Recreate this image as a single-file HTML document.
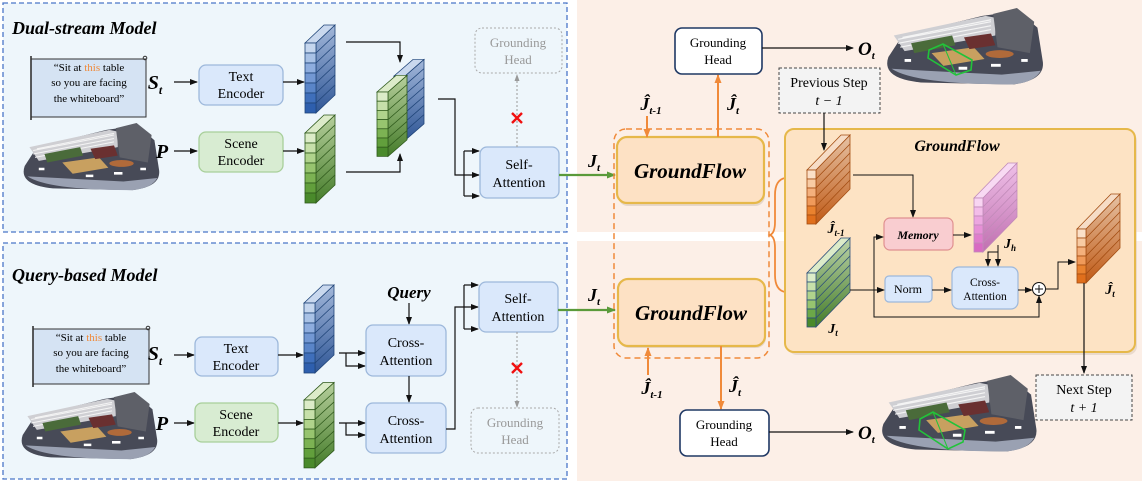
<!DOCTYPE html>
<html><head><meta charset="utf-8"><style>
html,body{margin:0;padding:0;background:#fff;}
svg{display:block;}
text{font-family:"Liberation Serif",serif;}
</style></head><body>
<svg width="1142" height="483" viewBox="0 0 1142 483" xmlns="http://www.w3.org/2000/svg">
<defs>
<marker id="ab" markerWidth="8" markerHeight="8" refX="7" refY="4" orient="auto" markerUnits="userSpaceOnUse"><path d="M0,1 L8,4 L0,7 Z" fill="#111"/></marker>
<marker id="ag" markerWidth="9" markerHeight="9" refX="8" refY="4.5" orient="auto" markerUnits="userSpaceOnUse"><path d="M0,1 L9,4.5 L0,8 Z" fill="#5a9a3a"/></marker>
<marker id="ao" markerWidth="9" markerHeight="9" refX="8" refY="4.5" orient="auto" markerUnits="userSpaceOnUse"><path d="M0,1 L9,4.5 L0,8 Z" fill="#f08a3a"/></marker>
<marker id="agr" markerWidth="7" markerHeight="7" refX="6" refY="3.5" orient="auto" markerUnits="userSpaceOnUse"><path d="M0,1 L7,3.5 L0,6 Z" fill="#999"/></marker>
<linearGradient id="bside" x1="0" y1="0" x2="0" y2="1"><stop offset="0" stop-color="#a3b8da"/><stop offset="1" stop-color="#2f5696"/></linearGradient>
<linearGradient id="gside" x1="0" y1="0" x2="0" y2="1"><stop offset="0" stop-color="#b6cf9c"/><stop offset="1" stop-color="#457c2a"/></linearGradient>
<linearGradient id="oside" x1="0" y1="0" x2="0" y2="1"><stop offset="0" stop-color="#e6c2a4"/><stop offset="1" stop-color="#c05a16"/></linearGradient>
<linearGradient id="pside" x1="0" y1="0" x2="0" y2="1"><stop offset="0" stop-color="#efc0e8"/><stop offset="1" stop-color="#c070b0"/></linearGradient>
<linearGradient id="gside2" x1="0" y1="0" x2="0" y2="1"><stop offset="0" stop-color="#bcd3a8"/><stop offset="1" stop-color="#457c2a"/></linearGradient>

<g id="blueStack" stroke="#1f4478" stroke-width="0.8">
<polygon points="11,0 30,-18 30,52 11,70" fill="url(#bside)"/>
<polygon points="0,0 19,-18 30,-18 11,0" fill="#c9d8ee"/>
<rect x="0" y="0" width="11" height="10" fill="#c5d6ee"/><rect x="0" y="10" width="11" height="10" fill="#a9c2e6"/><rect x="0" y="20" width="11" height="10" fill="#8eadde"/><rect x="0" y="30" width="11" height="10" fill="#7398d3"/><rect x="0" y="40" width="11" height="10" fill="#5a85c8"/><rect x="0" y="50" width="11" height="10" fill="#3f6fbb"/><rect x="0" y="60" width="11" height="10" fill="#2e5fae"/>
<path d="M11,10 l19,-18 M11,20 l19,-18 M11,30 l19,-18 M11,40 l19,-18 M11,50 l19,-18 M11,60 l19,-18" fill="none"/>
</g>
<g id="greenStack" stroke="#2f5a1c" stroke-width="0.8">
<polygon points="11,0 30,-18 30,52 11,70" fill="url(#gside)"/>
<polygon points="0,0 19,-18 30,-18 11,0" fill="#dcebc9"/>
<rect x="0" y="0" width="11" height="10" fill="#dcecc8"/><rect x="0" y="10" width="11" height="10" fill="#c7e0aa"/><rect x="0" y="20" width="11" height="10" fill="#b0d38c"/><rect x="0" y="30" width="11" height="10" fill="#97c46f"/><rect x="0" y="40" width="11" height="10" fill="#7cb253"/><rect x="0" y="50" width="11" height="10" fill="#629f3c"/><rect x="0" y="60" width="11" height="10" fill="#4a8a2b"/>
<path d="M11,10 l19,-18 M11,20 l19,-18 M11,30 l19,-18 M11,40 l19,-18 M11,50 l19,-18 M11,60 l19,-18" fill="none"/>
</g>
<g id="oSlab" stroke="#a34d12" stroke-width="0.8">
<polygon points="9,0 43,-35 43,19 9,54" fill="url(#oside)"/>
<polygon points="0,0 34,-35 43,-35 9,0" fill="#f6dcc6"/>
<rect x="0" y="0" width="9" height="9" fill="#fbe0c8"/><rect x="0" y="9" width="9" height="9" fill="#f8cba3"/><rect x="0" y="18" width="9" height="9" fill="#f4b07c"/><rect x="0" y="27" width="9" height="9" fill="#f09a5a"/><rect x="0" y="36" width="9" height="9" fill="#e9822f"/><rect x="0" y="45" width="9" height="9" fill="#e06f1c"/>
<path d="M9,9 l34,-35 M9,18 l34,-35 M9,27 l34,-35 M9,36 l34,-35 M9,45 l34,-35" fill="none"/>
</g>
<g id="gSlab" stroke="#2d4f7a" stroke-width="0.8">
<polygon points="9,0 43,-35 43,19 9,54" fill="url(#gside2)"/>
<polygon points="0,0 34,-35 43,-35 9,0" fill="#dcebc9"/>
<rect x="0" y="0" width="9" height="9" fill="#dcecc8"/><rect x="0" y="9" width="9" height="9" fill="#c7e0aa"/><rect x="0" y="18" width="9" height="9" fill="#b0d38c"/><rect x="0" y="27" width="9" height="9" fill="#97c46f"/><rect x="0" y="36" width="9" height="9" fill="#6ca848"/><rect x="0" y="45" width="9" height="9" fill="#4a8a2b"/>
<path d="M9,9 l34,-35 M9,18 l34,-35 M9,27 l34,-35 M9,36 l34,-35 M9,45 l34,-35" fill="none"/>
</g>
<g id="pSlab" stroke="#c08ab8" stroke-width="0.8">
<polygon points="9,0 43,-35 43,19 9,54" fill="url(#pside)"/>
<polygon points="0,0 34,-35 43,-35 9,0" fill="#f8daf3"/>
<rect x="0" y="0" width="9" height="9" fill="#f8d5f2"/><rect x="0" y="9" width="9" height="9" fill="#f3bde9"/><rect x="0" y="18" width="9" height="9" fill="#eca6e0"/><rect x="0" y="27" width="9" height="9" fill="#e690d6"/><rect x="0" y="36" width="9" height="9" fill="#df7dcc"/><rect x="0" y="45" width="9" height="9" fill="#d86bc2"/>
<path d="M9,9 l34,-35 M9,18 l34,-35 M9,27 l34,-35 M9,36 l34,-35 M9,45 l34,-35" fill="none"/>
</g>
<g id="pc">
<path d="M5,50 Q-2,72 35,76 L120,78 Q150,74 148,55 L143,20 L125,3 L92,8 L18,28 Z" fill="#474a57"/>
<path d="M8,62 Q30,78 120,78 Q140,76 146,64 L110,68 L40,64 Z" fill="#9aa1b2"/>
<path d="M10,28 L95,8 L104,10 L104,28 L20,44 Z" fill="#cfcfd3"/>
<path d="M14,32 L100,14 M14,36 L100,18 M16,40 L100,22 M18,30 L100,12" stroke="#f4f4f4" stroke-width="1.2"/>
<path d="M102,6 L124,0 L140,14 L136,46 L106,40 Z" fill="#5e6068"/>
<path d="M26,36 L64,28 L67,38 L29,46 Z" fill="#4a6b3a"/>
<path d="M45,46 L84,40 L94,52 L56,59 Z" fill="#c8a060"/>
<path d="M75,30 L100,26 L104,38 L80,42 Z" fill="#6a3030"/>
<ellipse cx="108" cy="47" rx="13" ry="4" fill="#b06a3a"/>
<path d="M20,52 h6 v3 h-6z M70,60 h8 v3 h-8z M100,57 h9 v3 h-9z M128,52 h6 v3 h-6z" fill="#fff"/>
</g>
</defs>

<rect x="577" y="0" width="565" height="232" fill="#fcefe7"/>
<rect x="577" y="241" width="565" height="240" fill="#fcefe7"/>
<rect x="3" y="3" width="564" height="229" fill="#eef6fb" stroke="#4a76c8" stroke-width="1.3" stroke-dasharray="5,3"/>
<rect x="3" y="243" width="564" height="236" fill="#eef6fb" stroke="#4a76c8" stroke-width="1.3" stroke-dasharray="5,3"/>

<text x="12" y="34" font-size="18" font-weight="bold" font-style="italic">Dual-stream Model</text>
<rect x="31" y="59" width="115" height="58" fill="#d5e3f3" stroke="#333" stroke-width="1"/>
<line x1="31" y1="56" x2="31" y2="120" stroke="#333" stroke-width="1.6"/>
<circle cx="145" cy="58" r="1.8" fill="none" stroke="#333"/>
<text font-size="11" text-anchor="middle" x="89"><tspan y="71">“Sit at <tspan fill="#f08a3a">this</tspan> table</tspan><tspan x="89" y="86">so you are facing</tspan><tspan x="89" y="102">the whiteboard”</tspan></text>
<use href="#pc" transform="translate(20,123) scale(0.94,0.86)"/>
<text x="155" y="89" font-size="20" font-weight="bold" font-style="italic" text-anchor="middle">S<tspan font-size="12" dy="5">t</tspan></text>
<line x1="174" y1="82" x2="197" y2="82" stroke="#111" stroke-width="1.2" marker-end="url(#ab)"/>
<text x="162" y="158" font-size="20" font-weight="bold" font-style="italic" text-anchor="middle">P</text>
<line x1="174" y1="151" x2="197" y2="151" stroke="#111" stroke-width="1.2" marker-end="url(#ab)"/>
<rect x="199" y="65" width="84" height="40" rx="7" fill="#dae8fb" stroke="#9db8db" stroke-width="1.3"/>
<text font-size="14" text-anchor="middle" x="241"><tspan y="81">Text</tspan><tspan x="241" y="98">Encoder</tspan></text>
<rect x="199" y="132" width="84" height="40" rx="7" fill="#d8ecd2" stroke="#a8cf9a" stroke-width="1.3"/>
<text font-size="14" text-anchor="middle" x="241"><tspan y="148">Scene</tspan><tspan x="241" y="165">Encoder</tspan></text>
<line x1="283" y1="82" x2="304" y2="82" stroke="#111" stroke-width="1.2" marker-end="url(#ab)"/>
<line x1="283" y1="151" x2="304" y2="151" stroke="#111" stroke-width="1.2" marker-end="url(#ab)"/>
<use href="#blueStack" transform="translate(305,43)"/>
<use href="#greenStack" transform="translate(305,133)"/>
<polyline points="346,42 400,42 400,62" fill="none" stroke="#111" stroke-width="1.2" marker-end="url(#ab)"/>
<polyline points="346,172 400,172 400,154" fill="none" stroke="#111" stroke-width="1.2" marker-end="url(#ab)"/>
<use href="#blueStack" transform="translate(394,76) scale(1,0.92)"/>
<use href="#greenStack" transform="translate(377,92) scale(1,0.92)"/>
<polyline points="438,99 455,99 455,175 479,175" fill="none" stroke="#111" stroke-width="1.2" marker-end="url(#ab)"/>
<line x1="464" y1="151" x2="464" y2="196" stroke="#111" stroke-width="1.2"/>
<line x1="464" y1="151" x2="479" y2="151" stroke="#111" stroke-width="1.2" marker-end="url(#ab)"/>
<line x1="464" y1="196" x2="479" y2="196" stroke="#111" stroke-width="1.2" marker-end="url(#ab)"/>
<rect x="480" y="147" width="79" height="51" rx="7" fill="#dae8fb" stroke="#9db8db" stroke-width="1.3"/>
<text font-size="14" text-anchor="middle" x="519"><tspan y="169">Self-</tspan><tspan x="519" y="187">Attention</tspan></text>
<rect x="475" y="28" width="87" height="45" rx="7" fill="none" stroke="#aaa" stroke-width="1" stroke-dasharray="2,2"/>
<text font-size="13" text-anchor="middle" x="518" fill="#999"><tspan y="47">Grounding</tspan><tspan x="518" y="64">Head</tspan></text>
<line x1="517" y1="147" x2="517" y2="75" stroke="#999" stroke-width="1" stroke-dasharray="2,2" marker-end="url(#agr)"/>
<path d="M512,113 l10,10 M522,113 l-10,10" stroke="#f01010" stroke-width="2.4"/>
<line x1="559" y1="175" x2="615" y2="175" stroke="#5a9a3a" stroke-width="2.2" marker-end="url(#ag)"/>
<text x="594" y="167" font-size="18" font-weight="bold" font-style="italic" text-anchor="middle">J<tspan font-size="11" dy="4">t</tspan></text>

<text x="12" y="281" font-size="18" font-weight="bold" font-style="italic">Query-based Model</text>
<rect x="33" y="329" width="116" height="55" fill="#d5e3f3" stroke="#333" stroke-width="1"/>
<line x1="33" y1="326" x2="33" y2="387" stroke="#333" stroke-width="1.6"/>
<circle cx="148" cy="328" r="1.8" fill="none" stroke="#333"/>
<text font-size="11" text-anchor="middle" x="91"><tspan y="341">“Sit at <tspan fill="#f08a3a">this</tspan> table</tspan><tspan x="91" y="356">so you are facing</tspan><tspan x="91" y="372">the whiteboard”</tspan></text>
<use href="#pc" transform="translate(18,392) scale(0.94,0.86)"/>
<text x="155" y="360" font-size="20" font-weight="bold" font-style="italic" text-anchor="middle">S<tspan font-size="12" dy="5">t</tspan></text>
<line x1="174" y1="355" x2="194" y2="355" stroke="#111" stroke-width="1.2" marker-end="url(#ab)"/>
<text x="162" y="430" font-size="20" font-weight="bold" font-style="italic" text-anchor="middle">P</text>
<line x1="174" y1="423" x2="194" y2="423" stroke="#111" stroke-width="1.2" marker-end="url(#ab)"/>
<rect x="195" y="337" width="83" height="39" rx="7" fill="#dae8fb" stroke="#9db8db" stroke-width="1.3"/>
<text font-size="14" text-anchor="middle" x="236"><tspan y="353">Text</tspan><tspan x="236" y="370">Encoder</tspan></text>
<rect x="195" y="403" width="83" height="39" rx="7" fill="#d8ecd2" stroke="#a8cf9a" stroke-width="1.3"/>
<text font-size="14" text-anchor="middle" x="236"><tspan y="419">Scene</tspan><tspan x="236" y="436">Encoder</tspan></text>
<line x1="278" y1="355" x2="303" y2="355" stroke="#111" stroke-width="1.2" marker-end="url(#ab)"/>
<line x1="278" y1="423" x2="303" y2="423" stroke="#111" stroke-width="1.2" marker-end="url(#ab)"/>
<use href="#blueStack" transform="translate(304,303)"/>
<use href="#greenStack" transform="translate(304,400) scale(1,0.97)"/>
<line x1="339" y1="353" x2="365" y2="353" stroke="#111" stroke-width="1.2" marker-end="url(#ab)"/>
<polyline points="346,353 346,366 365,366" fill="none" stroke="#111" stroke-width="1.2" marker-end="url(#ab)"/>
<line x1="339" y1="423" x2="365" y2="423" stroke="#111" stroke-width="1.2" marker-end="url(#ab)"/>
<polyline points="346,423 346,435 365,435" fill="none" stroke="#111" stroke-width="1.2" marker-end="url(#ab)"/>
<text x="409" y="298" font-size="17" font-weight="bold" font-style="italic" text-anchor="middle">Query</text>
<line x1="409" y1="303" x2="409" y2="324" stroke="#111" stroke-width="1.2" marker-end="url(#ab)"/>
<rect x="366" y="325" width="80" height="51" rx="7" fill="#dae8fb" stroke="#9db8db" stroke-width="1.3"/>
<text font-size="14" text-anchor="middle" x="406"><tspan y="347">Cross-</tspan><tspan x="406" y="365">Attention</tspan></text>
<line x1="409" y1="376" x2="409" y2="402" stroke="#111" stroke-width="1.2" marker-end="url(#ab)"/>
<rect x="366" y="403" width="80" height="50" rx="7" fill="#dae8fb" stroke="#9db8db" stroke-width="1.3"/>
<text font-size="14" text-anchor="middle" x="406"><tspan y="425">Cross-</tspan><tspan x="406" y="443">Attention</tspan></text>
<polyline points="446,429 455,429 455,307 478,307" fill="none" stroke="#111" stroke-width="1.2" marker-end="url(#ab)"/>
<line x1="464" y1="285" x2="464" y2="329" stroke="#111" stroke-width="1.2"/>
<line x1="464" y1="285" x2="478" y2="285" stroke="#111" stroke-width="1.2" marker-end="url(#ab)"/>
<line x1="464" y1="329" x2="478" y2="329" stroke="#111" stroke-width="1.2" marker-end="url(#ab)"/>
<rect x="479" y="282" width="79" height="50" rx="7" fill="#dae8fb" stroke="#9db8db" stroke-width="1.3"/>
<text font-size="14" text-anchor="middle" x="518"><tspan y="303">Self-</tspan><tspan x="518" y="321">Attention</tspan></text>
<line x1="517" y1="332" x2="517" y2="407" stroke="#999" stroke-width="1" stroke-dasharray="2,2" marker-end="url(#agr)"/>
<path d="M512,363 l10,10 M522,363 l-10,10" stroke="#f01010" stroke-width="2.4"/>
<rect x="471" y="408" width="88" height="45" rx="7" fill="none" stroke="#aaa" stroke-width="1" stroke-dasharray="2,2"/>
<text font-size="13" text-anchor="middle" x="515" fill="#999"><tspan y="427">Grounding</tspan><tspan x="515" y="444">Head</tspan></text>
<line x1="558" y1="310" x2="615" y2="310" stroke="#5a9a3a" stroke-width="2.2" marker-end="url(#ag)"/>
<text x="594" y="301" font-size="18" font-weight="bold" font-style="italic" text-anchor="middle">J<tspan font-size="11" dy="4">t</tspan></text>

<rect x="614" y="129" width="155" height="229" rx="12" fill="none" stroke="#f08a3a" stroke-width="1.5" stroke-dasharray="6,4"/>
<rect x="618" y="140" width="147" height="66" rx="10" fill="#d0c0b0" opacity="0.5"/>
<rect x="617" y="137" width="147" height="66" rx="10" fill="#fde1c4" stroke="#e6b84a" stroke-width="2.2"/>
<text x="690" y="178" font-size="21" font-weight="bold" font-style="italic" text-anchor="middle">GroundFlow</text>
<rect x="619" y="282" width="147" height="66" rx="10" fill="#d0c0b0" opacity="0.5"/>
<rect x="618" y="279" width="147" height="67" rx="10" fill="#fde1c4" stroke="#e6b84a" stroke-width="2.2"/>
<text x="691" y="320" font-size="21" font-weight="bold" font-style="italic" text-anchor="middle">GroundFlow</text>

<line x1="647" y1="116" x2="647" y2="137" stroke="#f08a3a" stroke-width="2" marker-end="url(#ao)"/>
<text x="651" y="110" font-size="18" font-weight="bold" font-style="italic" text-anchor="middle">Ĵ<tspan font-size="11" dy="4">t-1</tspan></text>
<line x1="718" y1="137" x2="718" y2="75" stroke="#f08a3a" stroke-width="2" marker-end="url(#ao)"/>
<text x="733" y="110" font-size="18" font-weight="bold" font-style="italic" text-anchor="middle">Ĵ<tspan font-size="11" dy="4">t</tspan></text>
<rect x="675" y="28" width="87" height="46" rx="7" fill="#fff" stroke="#1f3864" stroke-width="1.6"/>
<text font-size="13" text-anchor="middle" x="718"><tspan y="47">Grounding</tspan><tspan x="718" y="64">Head</tspan></text>
<line x1="762" y1="48" x2="853" y2="48" stroke="#111" stroke-width="1.2" marker-end="url(#ab)"/>
<text x="858" y="55" font-size="19" font-weight="bold" font-style="italic">O<tspan font-size="11" dy="4">t</tspan></text>
<use href="#pc" transform="translate(883,8) scale(1.08,0.98)"/>
<polygon points="929,50 943,44 972,60 971,70 956,75 928,58" fill="none" stroke="#22c33a" stroke-width="1.6"/>
<line x1="943" y1="44" x2="956" y2="75" stroke="#22c33a" stroke-width="1"/>

<rect x="779" y="68" width="101" height="45" fill="#f3f3f3" stroke="#444" stroke-width="1" stroke-dasharray="3,2"/>
<text font-size="14" text-anchor="middle" x="829"><tspan y="87">Previous Step</tspan><tspan x="829" y="105" font-style="italic">t − 1</tspan></text>

<line x1="648" y1="375" x2="648" y2="348" stroke="#f08a3a" stroke-width="2" marker-end="url(#ao)"/>
<text x="652" y="394" font-size="18" font-weight="bold" font-style="italic" text-anchor="middle">Ĵ<tspan font-size="11" dy="4">t-1</tspan></text>
<line x1="721" y1="346" x2="721" y2="409" stroke="#f08a3a" stroke-width="2" marker-end="url(#ao)"/>
<text x="735" y="392" font-size="18" font-weight="bold" font-style="italic" text-anchor="middle">Ĵ<tspan font-size="11" dy="4">t</tspan></text>
<rect x="680" y="410" width="89" height="46" rx="7" fill="#fff" stroke="#1f3864" stroke-width="1.6"/>
<text font-size="13" text-anchor="middle" x="724"><tspan y="429">Grounding</tspan><tspan x="724" y="446">Head</tspan></text>
<line x1="769" y1="432" x2="853" y2="432" stroke="#111" stroke-width="1.2" marker-end="url(#ab)"/>
<text x="858" y="439" font-size="19" font-weight="bold" font-style="italic">O<tspan font-size="11" dy="4">t</tspan></text>
<use href="#pc" transform="translate(878,375) scale(1.07,0.98)"/>
<polygon points="920,419 933,412 965,430 963,442 948,449 919,430" fill="none" stroke="#22c33a" stroke-width="1.6"/>
<line x1="933" y1="412" x2="948" y2="449" stroke="#22c33a" stroke-width="1"/>

<path d="M785,178 Q775,180 775,195 L775,222 Q775,233 770,235 Q775,237 775,248 L775,275 Q775,290 785,292" fill="none" stroke="#f08a3a" stroke-width="1.8"/>

<rect x="788" y="132" width="349" height="223" rx="9" fill="#d8c6b4" opacity="0.5"/>
<rect x="785" y="129" width="350" height="223" rx="9" fill="#fde3c4" stroke="#e6b84a" stroke-width="2"/>
<text x="957" y="151" font-size="16" font-weight="bold" font-style="italic" text-anchor="middle">GroundFlow</text>
<line x1="824" y1="113" x2="824" y2="150" stroke="#111" stroke-width="1.2" marker-end="url(#ab)"/>
<use href="#oSlab" transform="translate(807,170)"/>
<text x="836" y="233" font-size="14" font-weight="bold" font-style="italic" text-anchor="middle">Ĵ<tspan font-size="9" dy="3">t-1</tspan></text>
<use href="#gSlab" transform="translate(807,273)"/>
<text x="833" y="333" font-size="14" font-weight="bold" font-style="italic" text-anchor="middle">J<tspan font-size="9" dy="3">t</tspan></text>
<polyline points="853,175 913,175 913,217" fill="none" stroke="#111" stroke-width="1" marker-end="url(#ab)"/>
<rect x="884" y="218" width="69" height="32" rx="6" fill="#f9cdd0" stroke="#e09090" stroke-width="1.2"/>
<text x="918" y="239" font-size="12" font-weight="bold" font-style="italic" text-anchor="middle">Memory</text>
<line x1="953" y1="235" x2="971" y2="235" stroke="#111" stroke-width="1" marker-end="url(#ab)"/>
<use href="#pSlab" transform="translate(974,198)"/>
<text x="1010" y="248" font-size="14" font-weight="bold" font-style="italic" text-anchor="middle">J<tspan font-size="9" dy="3">h</tspan></text>
<line x1="998" y1="245" x2="998" y2="266" stroke="#111" stroke-width="1" marker-end="url(#ab)"/>
<polyline points="998,252 988,252 988,266" fill="none" stroke="#111" stroke-width="1" marker-end="url(#ab)"/>
<rect x="952" y="267" width="66" height="42" rx="7" fill="#dae8fb" stroke="#9db8db" stroke-width="1.2"/>
<text font-size="11.5" text-anchor="middle" x="985"><tspan y="286">Cross-</tspan><tspan x="985" y="300">Attention</tspan></text>
<rect x="885" y="276" width="47" height="26" rx="4" fill="#dae8fb" stroke="#9db8db" stroke-width="1.2"/>
<text x="908" y="293" font-size="12" text-anchor="middle">Norm</text>
<line x1="850" y1="290" x2="884" y2="290" stroke="#111" stroke-width="1" marker-end="url(#ab)"/>
<line x1="932" y1="290" x2="951" y2="290" stroke="#111" stroke-width="1" marker-end="url(#ab)"/>
<line x1="1018" y1="290" x2="1032" y2="290" stroke="#111" stroke-width="1" marker-end="url(#ab)"/>
<circle cx="1039" cy="289" r="6.5" fill="#fff" stroke="#111" stroke-width="1"/>
<path d="M1035,289 h8 M1039,285 v8" stroke="#111" stroke-width="1"/>
<polyline points="874,290 874,237 883,237" fill="none" stroke="#111" stroke-width="1" marker-end="url(#ab)"/>
<polyline points="874,290 874,317 1039,317 1039,296" fill="none" stroke="#111" stroke-width="1" marker-end="url(#ab)"/>
<polyline points="1046,289 1058,289 1058,262 1075,262" fill="none" stroke="#111" stroke-width="1" marker-end="url(#ab)"/>
<use href="#oSlab" transform="translate(1077,229)"/>
<text x="1110" y="294" font-size="14" font-weight="bold" font-style="italic" text-anchor="middle">Ĵ<tspan font-size="9" dy="3">t</tspan></text>
<line x1="1084" y1="283" x2="1084" y2="373" stroke="#111" stroke-width="1.2" marker-end="url(#ab)"/>
<rect x="1036" y="375" width="96" height="45" fill="#f3f3f3" stroke="#444" stroke-width="1" stroke-dasharray="3,2"/>
<text font-size="14" text-anchor="middle" x="1084"><tspan y="394">Next Step</tspan><tspan x="1084" y="412" font-style="italic">t + 1</tspan></text>
</svg>
</body></html>
